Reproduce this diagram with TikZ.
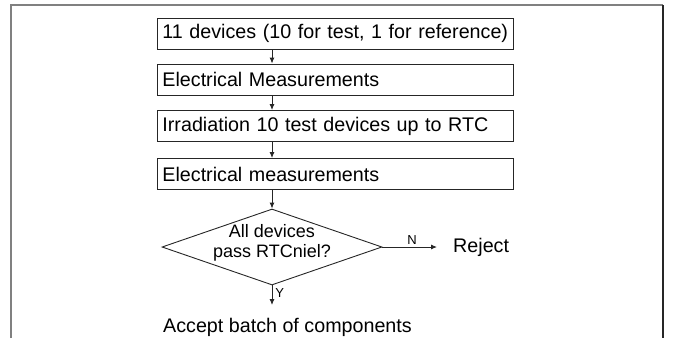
\documentclass[tikz,border=0pt]{standalone}
\usepackage{fontspec}
\setmainfont{Liberation Sans}
\usetikzlibrary{arrows.meta,shapes.geometric}
\begin{document}
\begin{tikzpicture}[x=1pt,y=-1pt,
  stepbox/.style={draw=black!85, line width=0.9pt, anchor=west, minimum width=356pt,
    minimum height=31pt, text width=346pt, inner xsep=5pt, inner ysep=0pt, align=left,
    font=\fontsize{19.7}{22}\selectfont},
  decbox/.style={draw=black!85, line width=0.9pt, diamond, minimum width=220pt,
    minimum height=76pt, inner sep=0pt},
  arr/.style={draw=black!85, line width=0.9pt, -{Latex[length=6pt,width=5pt]}},
  plain/.style={inner sep=0pt, font=\fontsize{19.7}{22}\selectfont},
  small/.style={inner sep=1pt, font=\fontsize{13}{14}\selectfont}]
\useasboundingbox (0,0) rectangle (677,338);
% frame
\draw[gray, line width=2pt] (11,338) -- (11,5) -- (663,5);
\draw[black!85, line width=1.3pt] (663,5) -- (663,338);
% boxes
\node[stepbox] (b1) at (157,33.5) {\mbox{11 devices (10 for test, 1 for reference)}};
\node[stepbox] (b2) at (157,79.5) {Electrical Measurements};
\node[stepbox] (b3) at (157,126) {Irradiation 10 test devices up to RTC};
\node[stepbox] (b4) at (157,174) {Electrical measurements};
\node[decbox] (dec) at (272,247) {};
\node[align=center, inner sep=0pt, font=\fontsize{18}{20}\selectfont] (dectext) at (272,243) {All devices\\pass RTCniel?};
\node[plain, anchor=west] (rej) at (453,247) {Reject};
\node[plain, anchor=west] (acc) at (163,327) {Accept batch of components};
\coordinate (yend) at (272,305);
% connectors
\draw[arr] (b1.south -| dec.north) -- (b2.north -| dec.north);
\draw[arr] (b2.south -| dec.north) -- (b3.north -| dec.north);
\draw[arr] (b3.south -| dec.north) -- (b4.north -| dec.north);
\draw[arr] (b4.south -| dec.north) -- (dec.north);
\draw[arr, shorten >=16pt] (dec.east) -- node[small, above=1pt, pos=0.42] (nlab) {N} (rej.west);
\draw[arr] (dec.south) -- node[small, right=2pt, pos=0.4] (ylab) {Y} (yend);
\end{tikzpicture}
\end{document}
